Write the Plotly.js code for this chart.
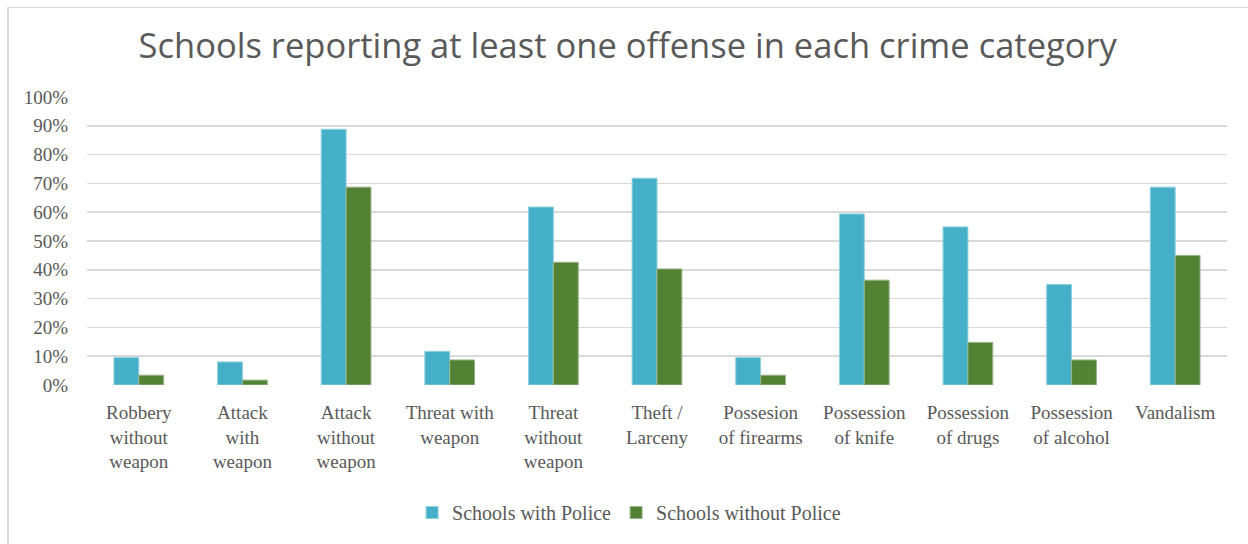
<!DOCTYPE html>
<html>
<head>
<meta charset="utf-8">
<script src="https://cdn.plot.ly/plotly-3.0.1.min.js"></script>
<style>
  html, body { margin: 0; padding: 0; background: #ffffff; overflow: hidden; }
  #chart { width: 1248px; height: 544px; position: relative; }
  #frame { position: absolute; left: 7px; top: 7px; width: 1241px; height: 537px; border-top: 1px solid #d9d9d9; border-left: 2px solid #d9d9d9; pointer-events: none; box-sizing: border-box; }
</style>
</head>
<body>
<div id="chart"></div>
<div id="frame"></div>
<script>
const categories = [
  "Robbery<br>without<br>weapon",
  "Attack<br>with<br>weapon",
  "Attack<br>without<br>weapon",
  "Threat with<br>weapon",
  "Threat<br>without<br>weapon",
  "Theft /<br>Larceny",
  "Possesion<br>of firearms",
  "Possession<br>of knife",
  "Possession<br>of drugs",
  "Possession<br>of alcohol",
  "Vandalism"
];
const withPolice = [0.095, 0.080, 0.888, 0.117, 0.618, 0.718, 0.095, 0.594, 0.549, 0.349, 0.687];
const withoutPolice = [0.034, 0.017, 0.687, 0.087, 0.426, 0.403, 0.034, 0.364, 0.148, 0.087, 0.450];
const yTickVals = [0, 0.1, 0.2, 0.3, 0.4, 0.5, 0.6, 0.7, 0.8, 0.9, 1.0];
const yTickText = ["0%", "10%", "20%", "30%", "40%", "50%", "60%", "70%", "80%", "90%", "100%"];
const seriesNames = ["Schools with Police", "Schools without Police"];

const serif = "'Liberation Serif', 'Times New Roman', serif";
const traces = [
  { type: 'bar', name: seriesNames[0], x: categories, y: withPolice,
    marker: { color: '#46AFC8', line: { color: '#8fd0e0', width: 1 } }, hoverinfo: 'y' },
  { type: 'bar', name: seriesNames[1], x: categories, y: withoutPolice,
    marker: { color: '#548235', line: { color: '#98b48a', width: 1 } }, hoverinfo: 'y' }
];

const layout = {
  width: 1248, height: 544,
  margin: { l: 87, r: 21, t: 97, b: 159 },
  paper_bgcolor: '#ffffff', plot_bgcolor: '#ffffff',
  title: { text: 'Schools reporting at least one offense in each crime category',
    font: { family: "'Open Sans', sans-serif", size: 34.5, color: '#595959' },
    x: 0.503, xanchor: 'center', y: 0.915, yanchor: 'middle' },
  barmode: 'group', bargap: 0.52, bargroupgap: 0,
  xaxis: { type: 'category', tickangle: 0, showgrid: false, zeroline: false, showline: false,
    ticks: '', ticklen: 0, ticklabelstandoff: 14,
    tickfont: { family: serif, size: 19, color: '#595959' } },
  yaxis: { range: [0, 1.0], tickvals: yTickVals, ticktext: yTickText,
    showgrid: true, gridcolor: '#d9d9d9', gridwidth: 1.5, zeroline: false, showline: false,
    ticks: '', ticklabelstandoff: 18,
    tickfont: { family: serif, size: 19, color: '#595959' } },
  showlegend: true,
  legend: { orientation: 'h', x: 0.4755, xanchor: 'center', y: -0.443, yanchor: 'middle',
    font: { family: serif, size: 20, color: '#595959' }, itemwidth: 30 }
};

Plotly.newPlot('chart', traces, layout, { displayModeBar: false, staticPlot: true });
</script>
</body>
</html>
